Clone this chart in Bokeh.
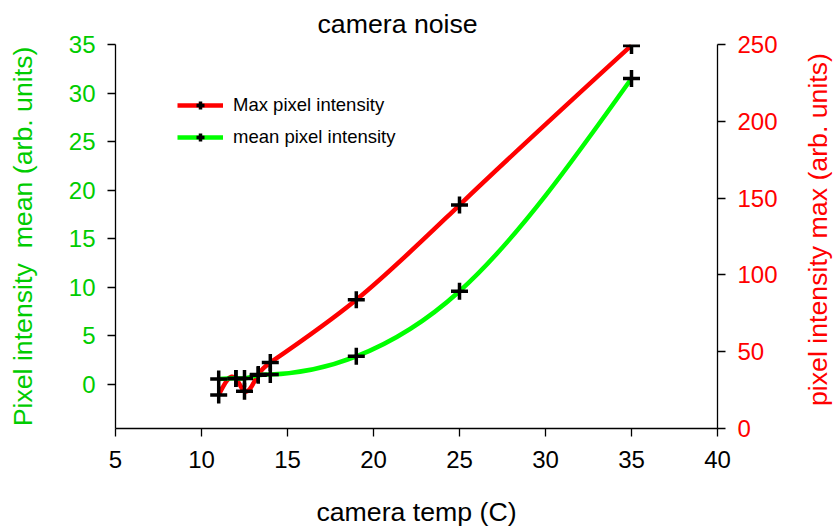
import math
import numpy as np
from bokeh.plotting import figure
from bokeh.models import Range1d, LinearAxis, FixedTicker, Legend, LegendItem, ColumnDataSource, Label
from bokeh.embed import file_html
from bokeh.resources import INLINE

# camera temperature (C) for each measurement
temp = [11, 12, 12.5, 13.3, 14, 19, 25, 35]
# mean pixel intensity (left axis, arb. units)
mean_intensity = [0.57, 0.63, 0.63, 0.95, 1.04, 2.9, 9.6, 31.5]
# max pixel intensity (right axis, arb. units)
max_intensity = [21.8, 32.5, 24.2, 35.1, 42.9, 83.8, 145.5, 249.4]

x_ticks = [5, 10, 15, 20, 25, 30, 35, 40]
mean_ticks = [0, 5, 10, 15, 20, 25, 30, 35]
max_ticks = [0, 50, 100, 150, 200, 250]

RED = "#ff0000"
GREEN_LINE = "#00ff00"
GREEN_TEXT = "#00cc00"
FONT = "Liberation Sans"


def spline_segments(xs, ys):
    """Natural cubic spline through the points, returned as cubic Bezier segments."""
    x = np.asarray(xs, float)
    y = np.asarray(ys, float)
    n = len(x)
    h = np.diff(x)
    A = np.zeros((n, n))
    b = np.zeros(n)
    A[0, 0] = A[-1, -1] = 1.0
    for i in range(1, n - 1):
        A[i, i - 1] = h[i - 1]
        A[i, i] = 2 * (h[i - 1] + h[i])
        A[i, i + 1] = h[i]
        b[i] = 6 * ((y[i + 1] - y[i]) / h[i] - (y[i] - y[i - 1]) / h[i - 1])
    M = np.linalg.solve(A, b)
    m = np.zeros(n)
    for i in range(n - 1):
        m[i] = (y[i + 1] - y[i]) / h[i] - h[i] * (2 * M[i] + M[i + 1]) / 6
    m[-1] = (y[-1] - y[-2]) / h[-1] + h[-1] * (M[-2] + 2 * M[-1]) / 6
    return dict(
        x0=x[:-1], y0=y[:-1], x1=x[1:], y1=y[1:],
        cx0=x[:-1] + h / 3, cy0=y[:-1] + m[:-1] * h / 3,
        cx1=x[1:] - h / 3, cy1=y[1:] - m[1:] * h / 3,
    )


p = figure(
    width=835, height=531,
    x_range=Range1d(5, 40), y_range=Range1d(-4.53, 35),
    output_backend="svg", toolbar_location=None,
    min_border_left=115, min_border_right=118,
    min_border_top=44, min_border_bottom=103,
)
p.extra_y_ranges = {"max": Range1d(0, 250)}
p.outline_line_alpha = 0
p.xgrid.visible = False
p.ygrid.visible = False
p.background_fill_color = "white"
p.border_fill_color = "white"

# title
p.title.text = "camera noise"
p.title.text_font = FONT
p.title.text_font_size = "26.7px"
p.title.text_font_style = "normal"
p.title.text_color = "black"
p.title.align = "left"
p.title.offset = 202
p.title.vertical_align = "middle"


def style_axis(ax, color, label_color):
    ax.axis_line_color = "black"
    ax.axis_line_width = 1.3
    ax.major_tick_line_color = "black"
    ax.major_tick_line_width = 1.3
    ax.major_tick_in = 0
    ax.major_tick_out = 8
    ax.minor_tick_line_color = None
    ax.major_label_text_font = FONT
    ax.major_label_text_font_size = "24px"
    ax.major_label_text_color = color
    ax.axis_label_text_font = FONT
    ax.axis_label_text_font_size = "26.7px"
    ax.axis_label_text_font_style = "normal"
    ax.axis_label_text_color = label_color


xa = p.xaxis[0]
xa.ticker = FixedTicker(ticks=x_ticks)
xa.axis_label = "camera temp (C)"
style_axis(xa, "black", "black")
xa.major_label_standoff = 14
xa.axis_label_standoff = 26

ya = p.yaxis[0]
ya.ticker = FixedTicker(ticks=mean_ticks)
ya.axis_label = "Pixel intensity\u00a0 mean (arb. units)"
style_axis(ya, GREEN_TEXT, GREEN_TEXT)
ya.major_label_standoff = 12
ya.axis_label_standoff = 28

# right-hand axis for the max intensity
ra = LinearAxis(y_range_name="max", ticker=FixedTicker(ticks=max_ticks))
style_axis(ra, RED, RED)
ra.major_label_standoff = 12
p.add_layout(ra, "right")

# its title, reading bottom to top, placed in the right-hand panel
p.add_layout(Label(
    x=37, y=199, x_units="screen", y_units="screen",
    text="pixel intensity max (arb. units)", angle=math.pi / 2,
    text_align="center", text_baseline="middle",
    text_font=FONT, text_font_size="26.7px", text_color=RED,
), "right")

# smoothed curves through the measurements
max_curve = p.bezier(source=ColumnDataSource(spline_segments(temp, max_intensity)),
                     x0="x0", y0="y0", x1="x1", y1="y1",
                     cx0="cx0", cy0="cy0", cx1="cx1", cy1="cy1",
                     line_color=RED, line_width=4.5, y_range_name="max")
mean_curve = p.bezier(source=ColumnDataSource(spline_segments(temp, mean_intensity)),
                      x0="x0", y0="y0", x1="x1", y1="y1",
                      cx0="cx0", cy0="cy0", cx1="cx1", cy1="cy1",
                      line_color=GREEN_LINE, line_width=4.5)

max_pts = p.scatter(temp, max_intensity, marker="cross", size=17,
                    line_color="black", line_width=3.5, y_range_name="max")
mean_pts = p.scatter(temp, mean_intensity, marker="cross", size=17,
                     line_color="black", line_width=3.5)

legend = Legend(
    items=[
        LegendItem(label="Max pixel intensity", renderers=[max_curve, max_pts]),
        LegendItem(label="mean pixel intensity", renderers=[mean_curve, mean_pts]),
    ],
    location=(62, 280),
    padding=0, margin=0, spacing=10,
    glyph_width=46, glyph_height=20, label_height=20,
    label_standoff=10,
    label_text_font=FONT, label_text_font_size="18.5px", label_text_color="black",
    border_line_alpha=0, background_fill_alpha=0,
)
p.add_layout(legend)

open("out.html", "w").write(file_html(p, INLINE))
